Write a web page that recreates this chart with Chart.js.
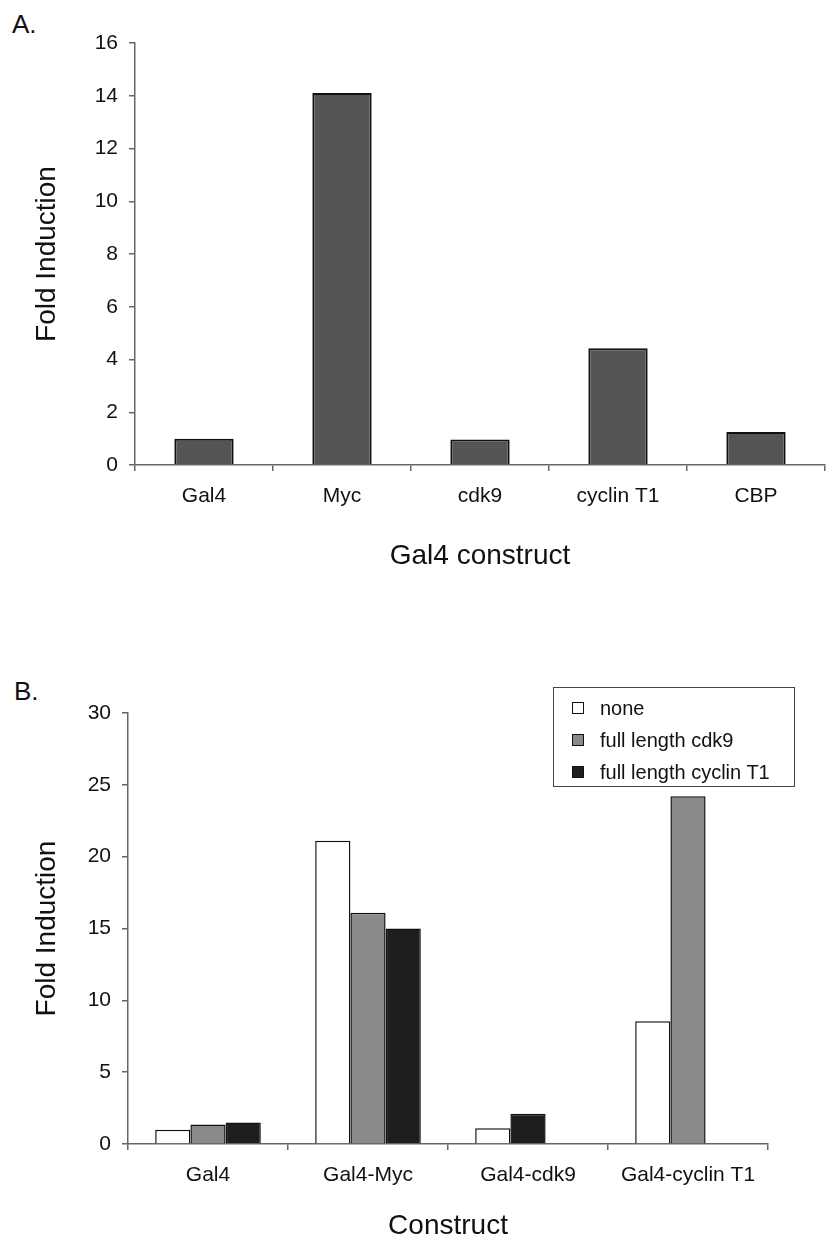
<!DOCTYPE html>
<html>
<head>
<meta charset="utf-8">
<script src="https://cdn.jsdelivr.net/npm/chart.js@4.4.1/dist/chart.umd.min.js"></script>
<style>
    body { margin: 0; background: #fff; font-family: 'Liberation Sans', Arial, sans-serif; color: #111; }
    .panel { position: absolute; left: 0; width: 829px; }
    .letter { position: absolute; font-size: 26px; line-height: 1; }
    #legendB { position: absolute; left: 553px; top: 687px; width: 242px; height: 100px;
        border: 1.5px solid #444; box-sizing: border-box; padding-top: 4px; }
    #legendB div { height: 32px; line-height: 32px; font-size: 20px; padding-left: 46px; position: relative; }
    #legendB span { position: absolute; left: 18px; top: 10px; width: 10px; height: 10px; border: 1.5px solid #111; }
</style>
</head>
<body>
<div class="letter" style="left:12px;top:11px">A.</div>
<div class="panel" style="top:0;height:610px"><canvas id="chartA"></canvas></div>
<div class="letter" style="left:14px;top:678px">B.</div>
<div class="panel" style="top:620px;height:620px"><canvas id="chartB"></canvas></div>
<div id="legendB"></div>
<script>
'use strict';

//// data, panel A
const labelsA = ['Gal4', 'Myc', 'cdk9', 'cyclin T1', 'CBP'];
const foldA = [1.0, 14.1, 0.97, 4.43, 1.25];
const yMaxA = 16, yStepA = 2;

//// data, panel B
const labelsB = ['Gal4', 'Gal4-Myc', 'Gal4-cdk9', 'Gal4-cyclin T1'];
const seriesB = ['none', 'full length cdk9', 'full length cyclin T1'];
const noneB = [1.0, 21.1, 1.1, 8.55];
// Gal4-cdk9: the cyclin T1 value sits in the middle slot in the original (drawn black)
const cdk9B = [1.35, 16.1, 2.1, 24.2];
const cyclinB = [1.5, 15.0, null, null];
const yMaxB = 30, yStepB = 5;

const grey = '#555555', lightGrey = '#8a8a8a', black = '#1e1e1e';
const axisCol = '#666';

Chart.defaults.font.family = "'Liberation Sans', Arial, sans-serif";
Chart.defaults.color = '#111';

// shared axis setup
function axes(yMax, yStep, yWidth, xHeight, titleX, titleY, xTitlePad) {
    return {
        x: {
            afterFit: (s) => { s.height = xHeight; },
            grid: { display: true, offset: true, drawOnChartArea: false, tickLength: 6, color: axisCol, lineWidth: 1.5 },
            border: { color: axisCol, width: 1.5 },
            ticks: { font: { size: 21 }, padding: 13, color: '#111' },
            title: { display: true, text: titleX, font: { size: 28, lineHeight: 1 }, padding: { top: 0, bottom: xTitlePad }, color: '#111' }
        },
        y: {
            min: 0, max: yMax,
            afterFit: (s) => { s.width = yWidth; },
            grid: { display: true, drawOnChartArea: false, tickLength: 6, color: axisCol, lineWidth: 1.5 },
            border: { color: axisCol, width: 1.5 },
            ticks: { stepSize: yStep, font: { size: 21 }, padding: 11, color: '#111' },
            title: { display: true, text: titleY, font: { size: 28, lineHeight: 1 }, padding: { top: 33, bottom: 0 }, color: '#111' }
        }
    };
}

//---> panel A <---//
new Chart(document.getElementById('chartA'), {
    type: 'bar',
    data: {
        labels: labelsA,
        datasets: [{
            label: 'Fold Induction',
            data: foldA,
            backgroundColor: grey,
            borderColor: '#111',
            borderWidth: 2,
            categoryPercentage: 0.43,
            barPercentage: 1.0
        }]
    },
    options: {
        responsive: true,
        maintainAspectRatio: false,
        animation: false,
        layout: { padding: { left: 0, right: 4, top: 43, bottom: 0 } },
        plugins: { legend: { display: false }, tooltip: { enabled: false } },
        scales: axes(yMaxA, yStepA, 135, 145, 'Gal4 construct', 'Fold Induction', 40)
    }
});

//---> panel B <---//
const barColsB = [
    '#ffffff',
    cdk9B.map((v, i) => (i === 2 ? black : lightGrey)),
    black
];
new Chart(document.getElementById('chartB'), {
    type: 'bar',
    data: {
        labels: labelsB,
        datasets: [noneB, cdk9B, cyclinB].map((d, i) => ({
            label: seriesB[i],
            data: d,
            backgroundColor: barColsB[i],
            borderColor: '#111',
            borderWidth: 1.5,
            categoryPercentage: 0.66,
            barPercentage: 1.0
        }))
    },
    options: {
        responsive: true,
        maintainAspectRatio: false,
        animation: false,
        layout: { padding: { left: 0, right: 61, top: 93, bottom: 0 } },
        plugins: { legend: { display: false }, tooltip: { enabled: false } },
        scales: axes(yMaxB, yStepB, 128, 96, 'Construct', 'Fold Induction', 0)
    }
});

//// legend B
const legendB = document.getElementById('legendB');
const legendCols = ['#ffffff', lightGrey, black];
seriesB.forEach((name, i) => {
    const row = document.createElement('div');
    const box = document.createElement('span');
    box.style.background = legendCols[i];
    row.appendChild(box);
    row.appendChild(document.createTextNode(name));
    legendB.appendChild(row);
});
</script>
</body>
</html>
